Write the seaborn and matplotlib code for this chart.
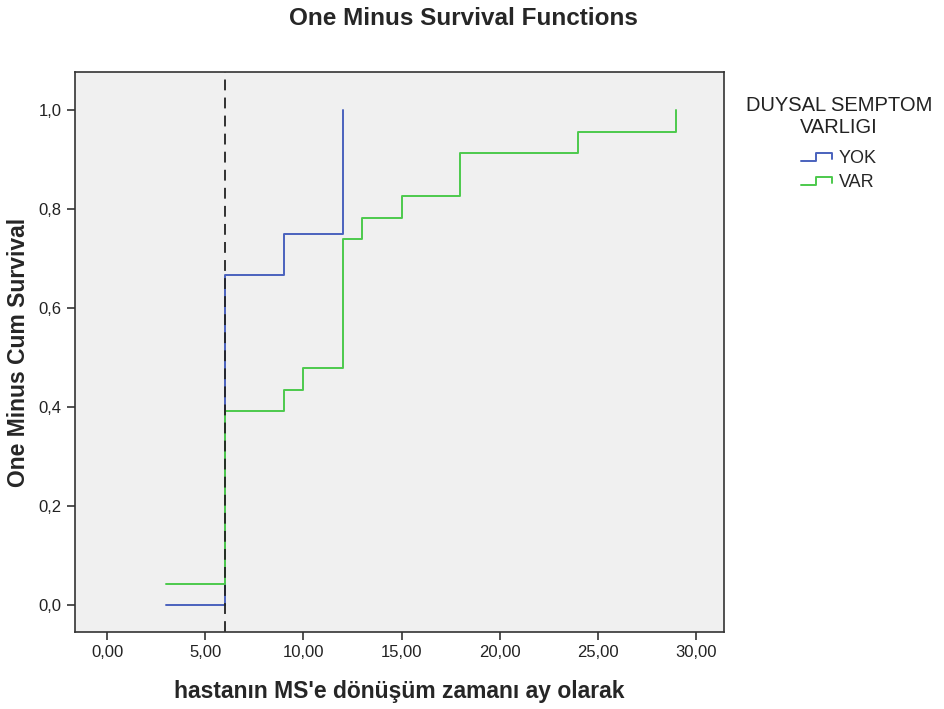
import numpy as np
import pandas as pd
import matplotlib
matplotlib.use("Agg")
import matplotlib.pyplot as plt
from matplotlib.legend_handler import HandlerBase
import seaborn as sns

# survival steps
yok_time = [3, 6, 9, 12]
yok_value = [0.0, 0.667, 0.75, 1.0]
var_time = [3, 6, 9, 10, 12, 13, 15, 18, 24, 29]
var_value = [1/23, 9/23, 10/23, 11/23, 17/23, 18/23, 19/23, 21/23, 22/23, 1.0]
groups = ["YOK", "VAR"]
x_ticks = [0, 5, 10, 15, 20, 25, 30]
y_ticks = [0.0, 0.2, 0.4, 0.6, 0.8, 1.0]
cut_time = 6

data = pd.DataFrame({
    "time": yok_time + var_time,
    "value": yok_value + var_value,
    "group": ["YOK"] * len(yok_time) + ["VAR"] * len(var_time),
})


# little step glyph like the SPSS legend
class StepHandler(HandlerBase):
    def create_artists(self, legend, orig_handle, xdescent, ydescent, width,
                       height, fontsize, trans):
        x = np.array([0, 0.4, 0.4, 0.85, 0.85]) * width - xdescent
        y = np.array([0.15, 0.15, 0.8, 0.8, 0.3]) * height - ydescent
        line = plt.Line2D(x, y, color=orig_handle.get_color(),
                          linewidth=orig_handle.get_linewidth(), transform=trans)
        return [line]


sns.set_style("white")
plt.rcParams["font.family"] = ["Liberation Sans", "DejaVu Sans"]

fig = plt.figure(figsize=(9.45, 7.09), dpi=100)
ax = fig.add_axes([0.0794, 0.1086, 0.6868, 0.7894])
ax.set_facecolor("#f0f0f0")

palette = {"YOK": "#4a62bd", "VAR": "#4cc94c"}
sns.lineplot(data=data, x="time", y="value", hue="group", hue_order=groups,
             palette=palette, drawstyle="steps-post", estimator=None,
             linewidth=1.4, ax=ax, legend=False)

ax.axvline(cut_time, color="#222222", linestyle=(0, (6, 4)), linewidth=1.3)

ax.set_xlim(-1.63, 31.43)
ax.set_ylim(-0.0545, 1.077)
ax.set_xticks(x_ticks)
ax.set_xticklabels([f"{v:.2f}".replace(".", ",") for v in x_ticks])
ax.set_yticks(y_ticks)
ax.set_yticklabels([f"{v:.1f}".replace(".", ",") for v in y_ticks])
ax.tick_params(axis="both", direction="out", length=6, width=1.2, color="#333333",
               labelsize=12, labelcolor="#222222", bottom=True, left=True)

for s in ax.spines.values():
    s.set_color("#333333")
    s.set_linewidth(1.2)

ax.set_xlabel("hastanın MS'e dönüşüm zamanı ay olarak", fontsize=16.5,
              fontweight="bold", labelpad=14)
ax.set_ylabel("One Minus Cum Survival", fontsize=16.5, fontweight="bold", labelpad=6)
fig.suptitle("One Minus Survival Functions", fontsize=17.5, fontweight="bold",
             x=0.49, y=0.99)

handles = [plt.Line2D([], [], color=palette[g], linewidth=1.4) for g in groups]
leg = fig.legend(handles, groups, title="DUYSAL SEMPTOM\nVARLIGI",
                 loc="upper center", bbox_to_anchor=(0.888, 0.887),
                 frameon=False, fontsize=13, title_fontsize=14.5,
                 handlelength=2.0, handletextpad=0.1, labelspacing=0.4,
                 handler_map={plt.Line2D: StepHandler()})
leg.get_title().set_multialignment("center")
leg.get_title().set_color("#222222")
leg._legend_box.sep = 9

fig.savefig("out.png", dpi=100)
